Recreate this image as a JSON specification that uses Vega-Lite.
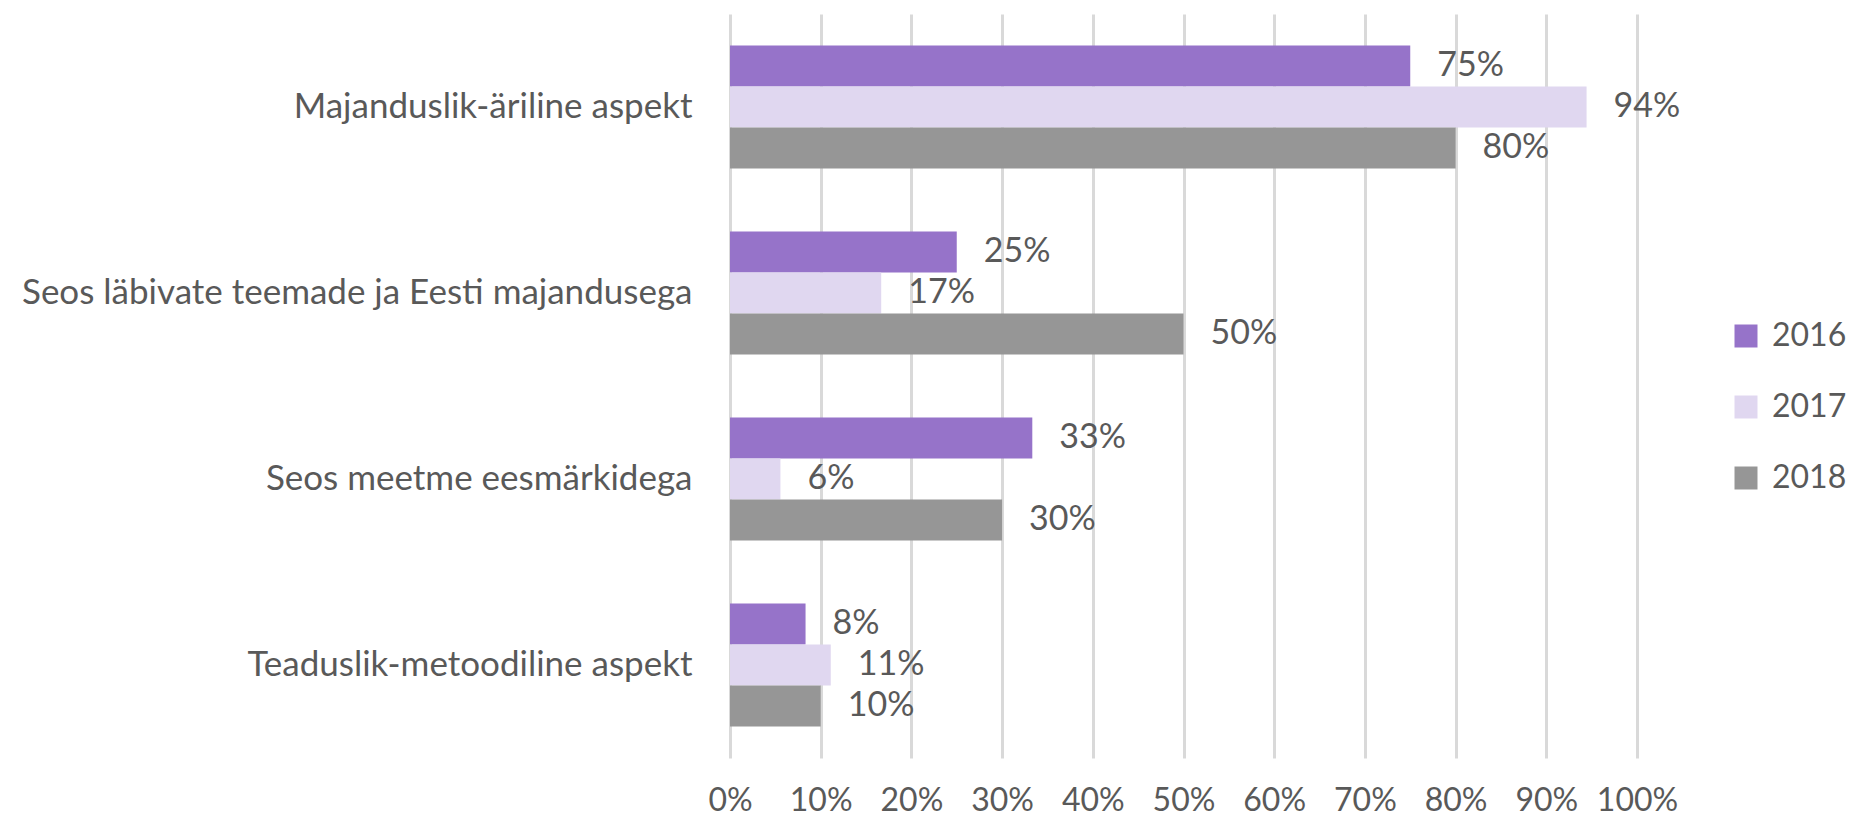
{
  "$schema": "https://vega.github.io/schema/vega-lite/v6.json",
  "autosize": "none",
  "width": 907,
  "height": 744,
  "padding": {"left": 730, "top": 14, "right": 219, "bottom": 62},
  "background": "white",
  "config": {"view": {"stroke": null}, "font": "Lato"},
  "data": {
    "values": [
      {"category": "Majanduslik-äriline aspekt", "year": "2016", "value": 0.75},
      {"category": "Majanduslik-äriline aspekt", "year": "2017", "value": 0.9444},
      {"category": "Majanduslik-äriline aspekt", "year": "2018", "value": 0.8},
      {"category": "Seos läbivate teemade ja Eesti majandusega", "year": "2016", "value": 0.25},
      {"category": "Seos läbivate teemade ja Eesti majandusega", "year": "2017", "value": 0.1667},
      {"category": "Seos läbivate teemade ja Eesti majandusega", "year": "2018", "value": 0.5},
      {"category": "Seos meetme eesmärkidega", "year": "2016", "value": 0.3333},
      {"category": "Seos meetme eesmärkidega", "year": "2017", "value": 0.0556},
      {"category": "Seos meetme eesmärkidega", "year": "2018", "value": 0.3},
      {"category": "Teaduslik-metoodiline aspekt", "year": "2016", "value": 0.0833},
      {"category": "Teaduslik-metoodiline aspekt", "year": "2017", "value": 0.1111},
      {"category": "Teaduslik-metoodiline aspekt", "year": "2018", "value": 0.1}
    ]
  },
  "encoding": {
    "y": {
      "field": "category",
      "type": "nominal",
      "sort": ["Majanduslik-äriline aspekt", "Seos läbivate teemade ja Eesti majandusega", "Seos meetme eesmärkidega", "Teaduslik-metoodiline aspekt"],
      "title": null,
      "scale": {"paddingInner": 0.34, "paddingOuter": 0.17},
      "axis": {"domain": false, "ticks": false, "labelFontSize": 35, "labelColor": "#595959", "labelPadding": 38, "labelLimit": 800}
    },
    "yOffset": {
      "field": "year",
      "type": "nominal",
      "sort": ["2016", "2017", "2018"],
      "scale": {"paddingInner": 0, "paddingOuter": 0}
    },
    "x": {
      "field": "value",
      "type": "quantitative",
      "title": null,
      "scale": {"domain": [0, 1], "nice": false},
      "axis": {"format": ".0%", "values": [0, 0.1, 0.2, 0.3, 0.4, 0.5, 0.6, 0.7, 0.8, 0.9, 1], "labelOverlap": false, "labelFlush": false, "labelBound": false, "domain": false, "ticks": false, "grid": true, "gridColor": "#D9D9D9", "gridWidth": 3, "labelFontSize": 32, "labelColor": "#595959", "labelPadding": 27}
    }
  },
  "layer": [
    {
      "mark": {"type": "bar"},
      "encoding": {
        "color": {
          "field": "year",
          "type": "nominal",
          "title": null,
          "scale": {"domain": ["2016", "2017", "2018"], "range": ["#9673C9", "#E0D7F0", "#969696"]},
          "legend": {"orient": "none", "legendX": 1000, "legendY": 306, "padding": 0, "symbolType": "square", "symbolSize": 529, "symbolStrokeWidth": 0, "labelFontSize": 32, "labelColor": "#595959", "labelOffset": 10, "labelLimit": 300, "rowPadding": 39}
        }
      }
    },
    {
      "mark": {"type": "text", "align": "left", "baseline": "middle", "dx": 27, "fontSize": 34, "color": "#595959"},
      "encoding": {"text": {"field": "value", "type": "quantitative", "format": ".0%"}}
    }
  ]
}
